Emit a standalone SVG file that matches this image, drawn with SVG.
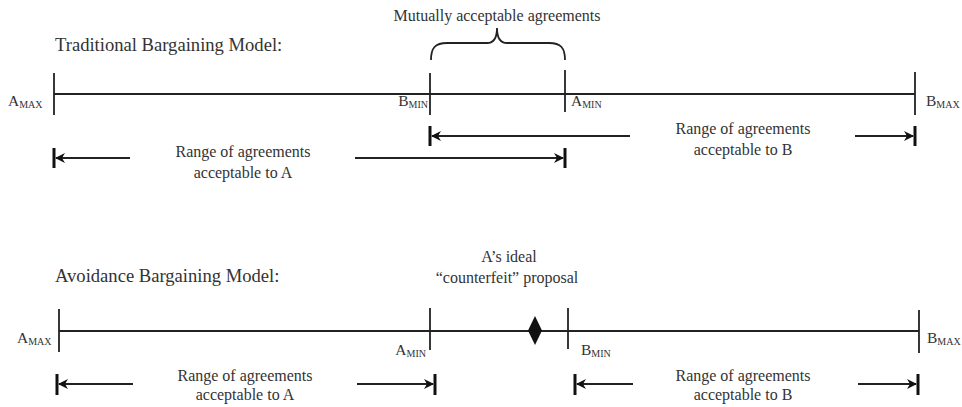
<svg xmlns="http://www.w3.org/2000/svg" width="962" height="407" viewBox="0 0 962 407" font-family="'Liberation Serif', 'DejaVu Serif', serif">
<style>
text{font-family:'Liberation Serif','DejaVu Serif',serif;fill:#333}
.title{font-size:18.6px}
.lab{font-size:16px}
.lbl{font-size:15.5px}
.sub{font-size:10px}
.axis{stroke:#222;stroke-width:1.8;fill:none}
.tick{stroke:#222;stroke-width:1.8}
.rng{stroke:#222;stroke-width:1.8;fill:none}
.bar{stroke:#111;stroke-width:3}
</style>
<defs>
<marker id="ah" viewBox="0 0 10 10" refX="9" refY="5" markerWidth="10" markerHeight="10" markerUnits="userSpaceOnUse" orient="auto-start-reverse">
<path d="M0,0 L10,5 L0,10 L3,5 Z" fill="#111"/>
</marker>
</defs>

<g id="top">
<text class="title" x="55" y="51">Traditional Bargaining Model:</text>
<line class="axis" x1="54" y1="94" x2="915" y2="94"/>
<g id="t-amax"><line class="tick" x1="54" y1="73" x2="54" y2="115"/><text class="lbl" x="8" y="106">A<tspan class="sub" dy="2">MAX</tspan></text></g>
<g id="t-bmin"><line class="tick" x1="430" y1="73" x2="430" y2="115"/><text class="lbl" x="428" y="106" text-anchor="end">B<tspan class="sub" dy="2">MIN</tspan></text></g>
<g id="t-amin"><line class="tick" x1="565" y1="70" x2="565" y2="112"/><text class="lbl" x="571" y="106">A<tspan class="sub" dy="2">MIN</tspan></text></g>
<g id="t-bmax"><line class="tick" x1="915" y1="72" x2="915" y2="115"/><text class="lbl" x="926" y="106">B<tspan class="sub" dy="2">MAX</tspan></text></g>
<g id="t-brace">
<path class="axis" d="M431,60 C431,48 435,43 447,43 L487,43 C494,43 497,37 497,28 C497,37 500,43 507,43 L549,43 C561,43 565,48 565,60"/>
<text class="lab" x="497" y="21" text-anchor="middle">Mutually acceptable agreements</text>
</g>
<g id="t-rangeB">
<line class="bar" x1="430" y1="126" x2="430" y2="146"/>
<line class="rng" x1="630" y1="136" x2="432" y2="136" marker-end="url(#ah)"/>
<line class="rng" x1="855" y1="136" x2="913" y2="136" marker-end="url(#ah)"/>
<line class="bar" x1="915" y1="126" x2="915" y2="146"/>
<text class="lab" x="743" y="134" text-anchor="middle">Range of agreements</text>
<text class="lab" x="743" y="155" text-anchor="middle">acceptable to B</text>
</g>
<g id="t-rangeA">
<line class="bar" x1="54" y1="148" x2="54" y2="168"/>
<line class="rng" x1="130" y1="158" x2="56" y2="158" marker-end="url(#ah)"/>
<line class="rng" x1="355" y1="158" x2="563" y2="158" marker-end="url(#ah)"/>
<line class="bar" x1="565" y1="148" x2="565" y2="168"/>
<text class="lab" x="243" y="157" text-anchor="middle">Range of agreements</text>
<text class="lab" x="243" y="178" text-anchor="middle">acceptable to A</text>
</g>
</g>

<g id="bottom">
<text class="title" x="55" y="282">Avoidance Bargaining Model:</text>
<line class="axis" x1="59" y1="331" x2="919" y2="331"/>
<g id="b-amax"><line class="tick" x1="59" y1="309" x2="59" y2="352"/><text class="lbl" x="17" y="343">A<tspan class="sub" dy="2">MAX</tspan></text></g>
<g id="b-amin"><line class="tick" x1="430" y1="308" x2="430" y2="350"/><text class="lbl" x="426" y="355" text-anchor="end">A<tspan class="sub" dy="2">MIN</tspan></text></g>
<g id="b-ideal">
<path d="M535,316 L542,330.5 L535,345 L528,330.5 Z" fill="#111"/>
<text class="lab" x="509" y="262" text-anchor="middle">A’s  ideal</text>
<text class="lab" x="507" y="283" text-anchor="middle">“counterfeit” proposal</text>
</g>
<g id="b-bmin"><line class="tick" x1="568" y1="308" x2="568" y2="349"/><text class="lbl" x="581" y="355">B<tspan class="sub" dy="2">MIN</tspan></text></g>
<g id="b-bmax"><line class="tick" x1="919" y1="310" x2="919" y2="353"/><text class="lbl" x="927" y="343">B<tspan class="sub" dy="2">MAX</tspan></text></g>
<g id="b-rangeA">
<line class="bar" x1="57" y1="374" x2="57" y2="395"/>
<line class="rng" x1="133" y1="384" x2="59" y2="384" marker-end="url(#ah)"/>
<line class="rng" x1="357" y1="384" x2="433" y2="384" marker-end="url(#ah)"/>
<line class="bar" x1="435" y1="374" x2="435" y2="395"/>
<text class="lab" x="245" y="381" text-anchor="middle">Range of agreements</text>
<text class="lab" x="245" y="400" text-anchor="middle">acceptable to A</text>
</g>
<g id="b-rangeB">
<line class="bar" x1="575" y1="374" x2="575" y2="395"/>
<line class="rng" x1="633" y1="384" x2="577" y2="384" marker-end="url(#ah)"/>
<line class="rng" x1="858" y1="384" x2="916" y2="384" marker-end="url(#ah)"/>
<line class="bar" x1="918" y1="374" x2="918" y2="395"/>
<text class="lab" x="743" y="381" text-anchor="middle">Range of agreements</text>
<text class="lab" x="743" y="400" text-anchor="middle">acceptable to B</text>
</g>
</g>
</svg>
